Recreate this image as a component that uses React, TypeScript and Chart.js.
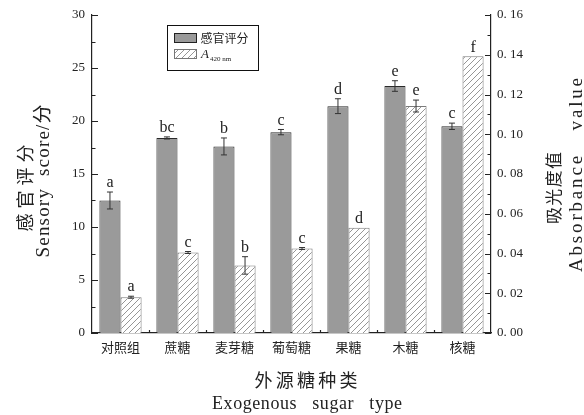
import React, { useEffect, useRef } from 'react';
import { Chart, registerables } from 'chart.js';
Chart.register(...registerables);

const categories = ['对照组', '蔗糖', '麦芽糖', '葡萄糖', '果糖', '木糖', '核糖'];
const sensoryScore = [12.5, 18.4, 17.6, 18.95, 21.4, 23.3, 19.5];
const sensoryError = [0.8, 0.1, 0.8, 0.25, 0.7, 0.5, 0.3];
const sensoryLetters = ['a', 'bc', 'b', 'c', 'd', 'e', 'c'];
const absorbance = [0.018, 0.0405, 0.034, 0.0425, 0.053, 0.1142, 0.1392];
const absorbanceError = [0.0005, 0.0005, 0.0044, 0.0005, 0, 0.003, 0];
const absorbanceLetters = ['a', 'c', 'b', 'c', 'd', 'e', 'f'];

const SERIF = '"Liberation Serif", "DejaVu Serif", "Noto Sans CJK SC", serif';
const CJK = '"Noto Sans CJK SC", "Liberation Serif", serif';

function makeHatch(): CanvasPattern | string {
  const c = document.createElement('canvas');
  c.width = 6;
  c.height = 6;
  const g = c.getContext('2d');
  if (!g) return '#fff';
  g.fillStyle = '#ffffff';
  g.fillRect(0, 0, 6, 6);
  g.strokeStyle = '#8a8a8a';
  g.lineWidth = 0.9;
  g.beginPath();
  g.moveTo(0, 6); g.lineTo(6, 0);
  g.moveTo(-1, 1); g.lineTo(1, -1);
  g.moveTo(5, 7); g.lineTo(7, 5);
  g.stroke();
  return g.createPattern(c, 'repeat') || '#fff';
}

// draw text centred at (cx, cy), spread to a given length, optionally rotated
function spreadText(ctx: CanvasRenderingContext2D, text: string, cx: number, cy: number, len: number, font: string, rotate: boolean) {
  ctx.save();
  ctx.translate(cx, cy);
  if (rotate) ctx.rotate(-Math.PI / 2);
  ctx.font = font;
  ctx.textAlign = 'left';
  ctx.textBaseline = 'middle';
  const chars = Array.from(text);
  const widths = chars.map((c) => ctx.measureText(c).width);
  const total = widths.reduce((a, b) => a + b, 0);
  const gap = chars.length > 1 ? Math.max(0, (len - total) / (chars.length - 1)) : 0;
  const full = total + gap * (chars.length - 1);
  let x = -full / 2;
  chars.forEach((c, i) => {
    ctx.fillText(c, x, 0);
    x += widths[i] + gap;
  });
  ctx.restore();
}

const decorPlugin = {
  id: 'decor',
  afterDatasetsDraw(chart: any) {
    const ctx = chart.ctx as CanvasRenderingContext2D;
    const y = chart.scales.y;
    const y1 = chart.scales.y1;
    const area = chart.chartArea;
    const hatch = chart.$hatch;
    ctx.save();
    const sets = [
      { meta: chart.getDatasetMeta(0), vals: sensoryScore, errs: sensoryError, letters: sensoryLetters, scale: y },
      { meta: chart.getDatasetMeta(1), vals: absorbance, errs: absorbanceError, letters: absorbanceLetters, scale: y1 },
    ];
    for (const s of sets) {
      s.meta.data.forEach((bar: any, i: number) => {
        const x = bar.x;
        const v = s.vals[i];
        const e = s.errs[i];
        const top = s.scale.getPixelForValue(v + e);
        const bot = s.scale.getPixelForValue(v - e);
        if (e > 0) {
          ctx.strokeStyle = '#333';
          ctx.lineWidth = 1;
          ctx.beginPath();
          ctx.moveTo(x, top); ctx.lineTo(x, bot);
          ctx.moveTo(x - 3, top); ctx.lineTo(x + 3, top);
          ctx.moveTo(x - 3, bot); ctx.lineTo(x + 3, bot);
          ctx.stroke();
        }
        ctx.fillStyle = '#222';
        ctx.font = `16px ${SERIF}`;
        ctx.textAlign = 'center';
        ctx.textBaseline = 'bottom';
        ctx.fillText(s.letters[i], x, Math.min(top, s.scale.getPixelForValue(v)) - 1);
      });
    }
    // axis ticks (inward)
    ctx.strokeStyle = '#222';
    ctx.lineWidth = 1.2;
    ctx.beginPath();
    for (let v = 0; v <= 30; v += 2.5) {
      const py = Math.round(y.getPixelForValue(v)) + 0.5;
      const len = v % 5 === 0 ? 6 : 3.5;
      ctx.moveTo(area.left, py); ctx.lineTo(area.left + len, py);
    }
    for (let k = 0; k <= 16; k++) {
      const py = Math.round(y1.getPixelForValue(k / 100)) + 0.5;
      const len = k % 2 === 0 ? 6 : 3.5;
      ctx.moveTo(area.right, py); ctx.lineTo(area.right - len, py);
    }
    const w = (area.right - area.left) / categories.length;
    for (let i = 1; i < categories.length; i++) {
      const px = Math.round(area.left + w * i) + 0.5;
      ctx.moveTo(px, area.bottom); ctx.lineTo(px, area.bottom - 3);
    }
    ctx.stroke();
    // legend
    const lx = 167, ly = 25, lw = 91, lh = 45;
    ctx.fillStyle = '#fff';
    ctx.fillRect(lx, ly, lw, lh);
    ctx.strokeStyle = '#111';
    ctx.lineWidth = 1;
    ctx.strokeRect(lx + 0.5, ly + 0.5, lw, lh);
    ctx.fillStyle = '#9a9a9a';
    ctx.fillRect(174, 33, 22, 9);
    ctx.strokeStyle = '#222';
    ctx.strokeRect(174.5, 33.5, 22, 9);
    ctx.fillStyle = hatch;
    ctx.fillRect(174, 49, 22, 9);
    ctx.strokeStyle = '#777';
    ctx.strokeRect(174.5, 49.5, 22, 9);
    ctx.fillStyle = '#222';
    spreadText(ctx, '感官评分', 224.5, 38, 48, `12px ${CJK}`, false);
    ctx.textAlign = 'left';
    ctx.textBaseline = 'middle';
    ctx.font = `italic 13px ${SERIF}`;
    ctx.fillText('A', 201, 55);
    ctx.font = `7px ${SERIF}`;
    ctx.fillText('420 nm', 210, 59);
    // axis titles
    ctx.fillStyle = '#222';
    spreadText(ctx, '感官评分', 25, 188, 87, `18px ${CJK}`, true);
    spreadText(ctx, 'Sensory  score/分', 44, 181, 153, `19px ${SERIF}`, true);
    spreadText(ctx, '吸光度值', 554, 188, 72, `17px ${CJK}`, true);
    spreadText(ctx, 'Absorbance   value', 577, 175, 194, `19px ${SERIF}`, true);
    spreadText(ctx, '外源糖种类', 306, 380, 103, `18px ${CJK}`, false);
    spreadText(ctx, 'Exogenous   sugar   type', 307, 404, 190, `18px ${SERIF}`, false);
    ctx.restore();
  },
};

export default function App() {
  const ref = useRef<HTMLCanvasElement | null>(null);
  useEffect(() => {
    document.body.style.margin = '0';
    const canvas = ref.current;
    if (!canvas) return;
    const hatch = makeHatch();
    const chart: any = new Chart(canvas, {
      type: 'bar',
      data: {
        labels: categories,
        datasets: [
          {
            label: '感官评分',
            data: sensoryScore,
            yAxisID: 'y',
            backgroundColor: '#9a9a9a',
            borderColor: '#2a2a2a',
            borderWidth: 1,
            categoryPercentage: 0.74,
            barPercentage: 1,
          },
          {
            label: 'A420 nm',
            data: absorbance,
            yAxisID: 'y1',
            backgroundColor: hatch as any,
            borderColor: '#7a7a7a',
            borderWidth: 1,
            categoryPercentage: 0.74,
            barPercentage: 1,
          },
        ],
      },
      options: {
        animation: false,
        responsive: false,
        devicePixelRatio: 1,
        layout: { padding: { top: 15, left: 0, right: 0, bottom: 0 } },
        plugins: { legend: { display: false }, tooltip: { enabled: false } },
        scales: {
          x: {
            grid: { display: false, drawTicks: false },
            border: { display: true, color: '#222', width: 1.2 },
            ticks: { color: '#222', font: { family: CJK, size: 13 }, padding: 6 },
            afterFit: (s: any) => { s.height = 82; },
          },
          y: {
            position: 'left',
            min: 0,
            max: 30,
            grid: { display: false, drawTicks: false },
            border: { display: true, color: '#222', width: 1.2 },
            ticks: { stepSize: 5, color: '#222', font: { family: SERIF, size: 13 }, padding: 7 },
            afterFit: (s: any) => { s.width = 92; },
          },
          y1: {
            position: 'right',
            min: 0,
            max: 0.16,
            grid: { display: false, drawTicks: false },
            border: { display: true, color: '#222', width: 1.2 },
            ticks: {
              stepSize: 0.02,
              color: '#222',
              font: { family: SERIF, size: 13 },
              padding: 6,
              callback: (v: any) => Number(v).toFixed(2).replace('.', '. '),
            },
            afterFit: (s: any) => { s.width = 93; },
          },
        },
      },
      plugins: [decorPlugin],
    });
    chart.$hatch = hatch;
    chart.draw();
    return () => chart.destroy();
  }, []);
  return (
    <div style={{ width: 584, height: 415, background: '#fff' }}>
      <canvas ref={ref} width={584} height={415} style={{ display: 'block' }} />
    </div>
  );
}
